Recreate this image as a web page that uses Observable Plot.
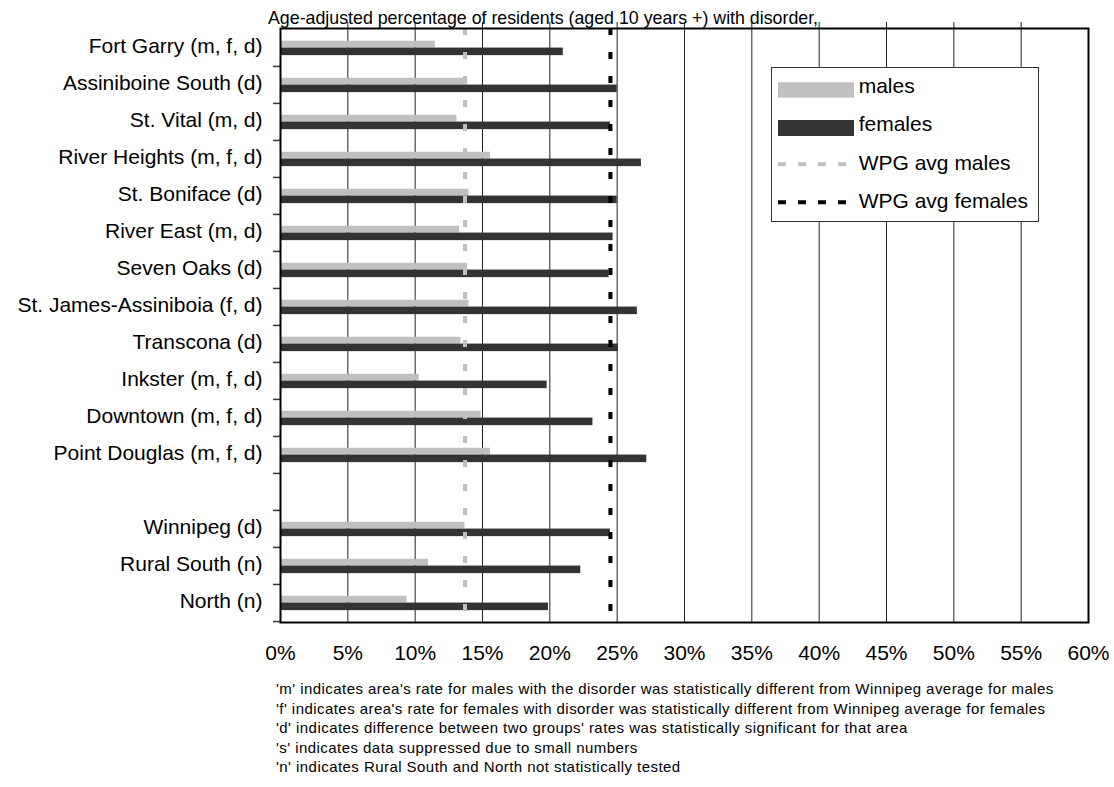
<!DOCTYPE html>
<html><head><meta charset="utf-8">
<script src="https://cdn.jsdelivr.net/npm/d3@7"></script>
<script src="https://cdn.jsdelivr.net/npm/@observablehq/plot@0.6"></script>
<style>
body{margin:0;background:#fff;font-family:"Liberation Sans",Arial,sans-serif;color:#000;}
#wrap{position:relative;width:1114px;height:787px;overflow:hidden;background:#fff;}
#chart{position:absolute;left:0;top:0;}
.sub{position:absolute;left:268px;top:10px;font-size:17.8px;line-height:17px;white-space:nowrap;letter-spacing:0px;}
.notes{position:absolute;left:276px;top:679px;font-size:15px;line-height:19.5px;white-space:nowrap;letter-spacing:0.45px;}
#legend{position:absolute;left:771px;top:67px;}
</style></head><body>
<div id="wrap">
<div id="chart"></div>
<div class="sub" id="sub"></div>
<div id="legend"></div>
<div class="notes" id="notes"></div>
</div>
<script>
// ---- data ----
const areas = [
  "Fort Garry (m, f, d)", "Assiniboine South (d)", "St. Vital (m, d)", "River Heights (m, f, d)",
  "St. Boniface (d)", "River East (m, d)", "Seven Oaks (d)", "St. James-Assiniboia (f, d)",
  "Transcona (d)", "Inkster (m, f, d)", "Downtown (m, f, d)", "Point Douglas (m, f, d)",
  "", "Winnipeg (d)", "Rural South (n)", "North (n)"
];
const males   = [11.5, 13.9, 13.1, 15.6, 14.0, 13.3, 13.9, 14.0, 13.4, 10.3, 14.9, 15.6, null, 13.7, 11.0, 9.4];
const females = [21.0, 25.0, 24.5, 26.8, 25.0, 24.7, 24.4, 26.5, 25.1, 19.8, 23.2, 27.2, null, 24.5, 22.3, 19.9];
const wpgAvgMales = 13.7;
const wpgAvgFemales = 24.5;
const xTicks = [0, 5, 10, 15, 20, 25, 30, 35, 40, 45, 50, 55, 60];
const subtitle = "Age-adjusted percentage of residents (aged 10 years +) with disorder,";
const legendLabels = ["males", "females", "WPG avg males", "WPG avg females"];
const footnotes = [
  "'m' indicates area's rate for males with the disorder was statistically different from Winnipeg average for males",
  "'f' indicates area's rate for females with disorder was statistically different from Winnipeg average for females",
  "'d' indicates difference between two groups' rates was statistically significant for that area",
  "'s' indicates data suppressed due to small numbers",
  "'n' indicates Rural South and North not statistically tested"
];

// ---- chart ----
const rows = areas.map((a, i) => ({area: a, male: males[i], female: females[i]})).filter(d => d.male != null);
const plotTop = 28, plotBottom = 622;
const bw = (plotBottom - plotTop) / areas.length;
const font = '"Liberation Sans", Arial, sans-serif';

const chart = Plot.plot({
  width: 1114, height: 787,
  marginTop: plotTop, marginBottom: 787 - plotBottom, marginLeft: 280, marginRight: 26,
  style: {fontFamily: font, fontSize: "21px", color: "#000", background: "#fff", overflow: "visible"},
  x: {domain: [0, 60], label: null},
  y: {domain: areas, padding: 0, label: null},
  marks: [
    Plot.ruleX(xTicks.slice(1, -1), {stroke: "#222", strokeWidth: 1, insetTop: -6}),
    Plot.barX(rows, {y: "area", x: "male", fill: "#c0c0c0", insetTop: bw / 2 - 6.8, insetBottom: bw / 2}),
    Plot.barX(rows, {y: "area", x: "female", fill: "#333333", insetTop: bw / 2, insetBottom: bw / 2 - 7.7}),
    Plot.ruleX([wpgAvgMales], {stroke: "#c0c0c0", strokeWidth: 4, strokeDasharray: "7,17"}),
    Plot.ruleX([wpgAvgFemales], {stroke: "#000", strokeWidth: 4, strokeDasharray: "7,17"}),
    Plot.ruleY(areas.slice(1), {y: d => d, x1: -0.52, x2: 0, dy: -bw / 2, stroke: "#333", strokeWidth: 1.5}),
    Plot.ruleY(areas.slice(-1), {y: d => d, x1: -0.52, x2: 0, dy: bw / 2, stroke: "#333", strokeWidth: 1.5}),
    Plot.frame({stroke: "#000", strokeWidth: 2}),
    Plot.axisX({ticks: xTicks, tickFormat: d => d + "%", tickSize: 0, tickPadding: 23, label: null, fontSize: 21}),
    Plot.axisY({tickSize: 0, tickPadding: 18, label: null, fontSize: 21, dy: -1.5})
  ]
});
document.getElementById("chart").appendChild(chart);

// ---- subtitle & footnotes ----
document.getElementById("sub").textContent = subtitle;
const notes = d3.select("#notes");
footnotes.forEach(t => notes.append("div").text(t));

// ---- legend ----
const lg = d3.select("#legend").append("svg").attr("width", 269).attr("height", 156)
  .style("font-family", font).style("font-size", "21px");
lg.append("rect").attr("x", 0.5).attr("y", 0.5).attr("width", 267).attr("height", 154)
  .attr("fill", "#fff").attr("stroke", "#333").attr("stroke-width", 1);
lg.append("rect").attr("x", 7).attr("y", 15.3).attr("width", 76).attr("height", 15.4).attr("fill", "#c0c0c0");
lg.append("rect").attr("x", 7).attr("y", 53).attr("width", 76).attr("height", 16).attr("fill", "#333333");
lg.append("line").attr("x1", 7).attr("x2", 81).attr("y1", 97.3).attr("y2", 97.3)
  .attr("stroke", "#c0c0c0").attr("stroke-width", 4).attr("stroke-dasharray", "8,12");
lg.append("line").attr("x1", 7).attr("x2", 81).attr("y1", 135.3).attr("y2", 135.3)
  .attr("stroke", "#000").attr("stroke-width", 4).attr("stroke-dasharray", "8,12");
const baselines = [26, 64, 103, 141];
legendLabels.forEach((t, i) => lg.append("text").attr("x", 87.7).attr("y", baselines[i]).text(t));
</script>
</body></html>
